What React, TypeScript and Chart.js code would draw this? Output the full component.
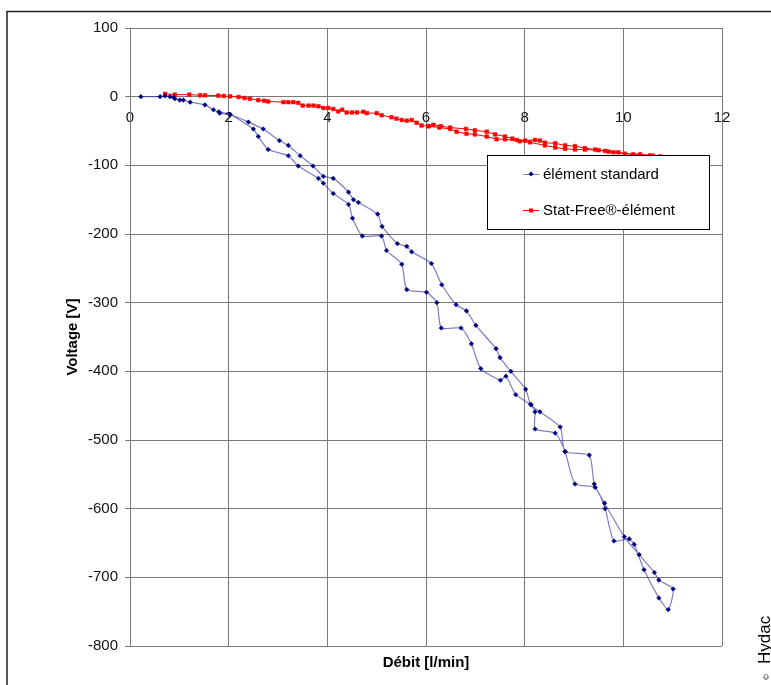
import React, { useEffect, useRef } from "react";
import { Chart, registerables } from "chart.js";

Chart.register(...registerables);

// ---- Data ----
const seriesLabels = ["élément standard", "Stat-Free®-élément"];
const xTitle = "Débit [l/min]";
const yTitle = "Voltage [V]";
const copyrightText = "Hydac";

const xTicks = [0, 2, 4, 6, 8, 10, 12];
const yTicks = [100, 0, -100, -200, -300, -400, -500, -600, -700, -800];

// élément standard: ramp up (upper branch) then back (lower branch)
const standardFlow = [
  0.22, 0.61, 0.71, 0.81, 0.88, 0.91, 1.01, 1.08, 1.22, 1.52, 1.69, 1.82, 2.03,
  2.40, 2.70, 3.03, 3.21, 3.45, 3.71, 3.92, 4.12, 4.43, 4.53, 4.63, 5.02, 5.11,
  5.42, 5.61, 5.71, 6.11, 6.32, 6.61, 6.82, 7.01, 7.42, 7.50, 7.72, 8.02, 8.12,
  8.31, 8.72, 8.82, 9.31, 9.41, 9.62, 10.02, 10.32, 10.63, 10.72, 11.01,
  10.91, 10.72, 10.42, 10.22, 10.12, 9.81, 9.63, 9.43, 9.02, 8.82, 8.62, 8.21,
  8.21, 8.13, 7.82, 7.62, 7.51, 7.11, 6.92, 6.71, 6.31, 6.22, 6.01, 5.61, 5.51,
  5.20, 5.10, 4.71, 4.51, 4.43, 4.12, 3.92, 3.82, 3.41, 3.21, 2.80, 2.60, 2.50,
  2.03, 1.80,
];
const standardVoltage = [
  0, 0, 1, 0, -1, -3, -5, -5, -8, -12, -19, -24, -26,
  -37, -47, -64, -71, -86, -101, -116, -119, -139, -150, -154, -171, -189,
  -214, -218, -226, -243, -274, -303, -312, -333, -367, -380, -400, -426, -448,
  -459, -481, -517, -522, -564, -592, -641, -667, -693, -704, -717,
  -747, -730, -689, -652, -644, -647, -600, -569, -564, -517, -490, -484,
  -459, -449, -434, -407, -413, -396, -360, -337, -337, -300, -285, -281, -244,
  -224, -203, -203, -177, -157, -141, -126, -119, -101, -86, -77, -58, -47,
  -26, -22,
];

// Stat-Free®-élément
const statFreeFlow = [
  0.71, 0.91, 1.20, 1.42, 1.52, 1.79, 1.90, 2.03, 2.20, 2.32, 2.43, 2.60, 2.72,
  2.80, 3.11, 3.21, 3.31, 3.41, 3.50, 3.62, 3.72, 3.82, 3.92, 4.02, 4.12, 4.22,
  4.30, 4.39, 4.50, 4.60, 4.73, 4.80, 5.00, 5.10, 5.30, 5.40, 5.51, 5.61, 5.71,
  5.81, 5.91, 6.05, 6.15, 6.30, 6.49, 6.81, 6.99, 7.23, 7.40, 7.60, 7.75, 7.84,
  8.01, 8.21, 8.31, 8.41, 8.62, 8.82, 9.02, 9.22, 9.43, 9.63, 9.70, 9.90, 10.03,
  10.34, 10.54, 10.75,
  10.60, 10.20, 9.80, 9.50, 9.22, 9.02, 8.82, 8.62, 8.41, 8.11, 7.90, 7.60, 7.43,
  7.23, 6.99, 6.82, 6.62, 6.49, 6.27, 6.05,
];
const statFreeVoltage = [
  4, 3, 3, 2, 2, 1.5, 1, 0.5, -0.5, -2, -3, -5, -6,
  -7, -8, -8, -8, -9, -13, -13, -13, -14, -16.5, -16.5, -18, -21.5,
  -19, -23, -23, -23, -22, -24, -24, -27, -30, -32, -34, -35, -34,
  -38, -42, -43, -41, -43, -45, -47, -49, -51, -55, -58, -61, -63,
  -64, -63, -64, -67, -68, -71, -72, -75, -77, -79, -80, -81, -83,
  -84, -85.5, -87,
  -86, -84, -81, -78, -77, -77, -76, -74, -71, -66.5, -65, -62, -62,
  -58, -55, -54, -51, -47, -45, -43,
];

const FONT = "'Liberation Sans', Arial, sans-serif";
const standardColor = "#000080";
const standardLine = "rgba(40,40,150,0.6)";
const statFreeColor = "#ff0000";

const decorPlugin = {
  id: "decor",
  beforeDraw(chart: any) {
    const ctx = chart.ctx;
    ctx.save();
    ctx.fillStyle = "#ffffff";
    ctx.fillRect(0, 0, chart.width, chart.height);
    ctx.restore();
  },
  afterDraw(chart: any) {
    const ctx = chart.ctx;
    const area = chart.chartArea;
    ctx.save();
    // outer frame
    ctx.strokeStyle = "#222";
    ctx.lineWidth = 1.5;
    ctx.beginPath();
    ctx.moveTo(7, chart.height);
    ctx.lineTo(7, 11.5);
    ctx.lineTo(chart.width, 11.5);
    ctx.stroke();

    // x title
    ctx.fillStyle = "#000";
    ctx.font = `bold 15px ${FONT}`;
    ctx.textAlign = "center";
    ctx.textBaseline = "middle";
    ctx.fillText(xTitle, (area.left + area.right) / 2, area.bottom + 17);

    // legend
    const bx = 487.5, by = 155.5, bw = 222, bh = 74;
    ctx.fillStyle = "#fff";
    ctx.fillRect(bx, by, bw, bh);
    ctx.strokeStyle = "#000";
    ctx.lineWidth = 1;
    ctx.strokeRect(bx, by, bw, bh);
    const rows = [174, 210];
    chart.data.datasets.forEach((ds: any, i: number) => {
      const y = rows[i];
      ctx.strokeStyle = ds.borderColor;
      ctx.lineWidth = 1;
      ctx.beginPath();
      ctx.moveTo(523, y + 0.5);
      ctx.lineTo(539, y + 0.5);
      ctx.stroke();
      ctx.fillStyle = ds.pointBackgroundColor;
      if (i === 0) {
        ctx.beginPath();
        ctx.moveTo(531, y - 2.5);
        ctx.lineTo(533.5, y);
        ctx.lineTo(531, y + 2.5);
        ctx.lineTo(528.5, y);
        ctx.closePath();
        ctx.fill();
      } else {
        ctx.fillRect(529, y - 1.5, 4, 4);
      }
      ctx.fillStyle = "#000";
      ctx.font = `15px ${FONT}`;
      ctx.textAlign = "left";
      ctx.textBaseline = "middle";
      ctx.fillText(ds.label, 543, y + 1);
    });

    // copyright
    ctx.translate(770, 680);
    ctx.rotate(-Math.PI / 2);
    ctx.fillStyle = "#000";
    ctx.textAlign = "left";
    ctx.textBaseline = "alphabetic";
    ctx.font = `8px ${FONT}`;
    ctx.fillText("©", 0, -1);
    ctx.font = `17px ${FONT}`;
    ctx.fillText(copyrightText, 16, 0);
    ctx.restore();
  },
};

export default function App() {
  const ref = useRef<HTMLCanvasElement | null>(null);
  useEffect(() => {
    if (!ref.current) return;
    const toPoints = (xs: number[], ys: number[]) => xs.map((x, i) => ({ x, y: ys[i] }));
    const chart = new Chart(ref.current, {
      type: "scatter",
      data: {
        datasets: [
          {
            label: seriesLabels[0],
            data: toPoints(standardFlow, standardVoltage),
            showLine: true,
            borderColor: standardLine,
            borderWidth: 1.2,
            pointStyle: "rectRot",
            pointRadius: 2.3,
            pointBorderWidth: 0.5,
            pointBackgroundColor: standardColor,
            pointBorderColor: standardColor,
            tension: 0.2,
          },
          {
            label: seriesLabels[1],
            data: toPoints(statFreeFlow, statFreeVoltage),
            showLine: true,
            borderColor: statFreeColor,
            borderWidth: 1,
            pointStyle: "rect",
            pointRadius: 2.6,
            pointBorderWidth: 0.5,
            pointBackgroundColor: statFreeColor,
            pointBorderColor: statFreeColor,
            tension: 0,
          },
        ],
      },
      options: {
        animation: false,
        responsive: false,
        devicePixelRatio: 1,
        layout: { padding: { left: 0, right: 49, top: 28, bottom: 39 } },
        plugins: { legend: { display: false }, tooltip: { enabled: false }, title: { display: false } },
        scales: {
          x: {
            type: "linear",
            position: { y: 0 } as any,
            min: 0,
            max: 12,
            afterBuildTicks: (s: any) => { s.ticks = xTicks.map((v) => ({ value: v })); },
            ticks: { font: { family: FONT, size: 15 }, color: "#111", padding: 7 },
            grid: { color: "#7a7a7a", lineWidth: 1, tickLength: 5 },
            border: { color: "#7a7a7a", width: 1 },
          },
          y: {
            type: "linear",
            position: "left",
            min: -800,
            max: 100,
            afterBuildTicks: (s: any) => { s.ticks = yTicks.map((v) => ({ value: v })); },
            afterFit: (s: any) => { s.width = 130; },
            ticks: { font: { family: FONT, size: 15 }, color: "#111", padding: 7 },
            grid: { color: "#7a7a7a", lineWidth: 1, tickLength: 5 },
            border: { color: "#7a7a7a", width: 1 },
            title: {
              display: true,
              text: yTitle,
              font: { family: FONT, size: 15, weight: "bold" },
              color: "#000",
              padding: { top: 64, bottom: 0 },
            },
          },
        },
      },
      plugins: [decorPlugin],
    });
    return () => chart.destroy();
  }, []);
  return (
    <div style={{ position: "fixed", left: 0, top: 0, width: 771, height: 685, background: "#fff" }}>
      <canvas ref={ref} width={771} height={685} style={{ display: "block" }} />
    </div>
  );
}
